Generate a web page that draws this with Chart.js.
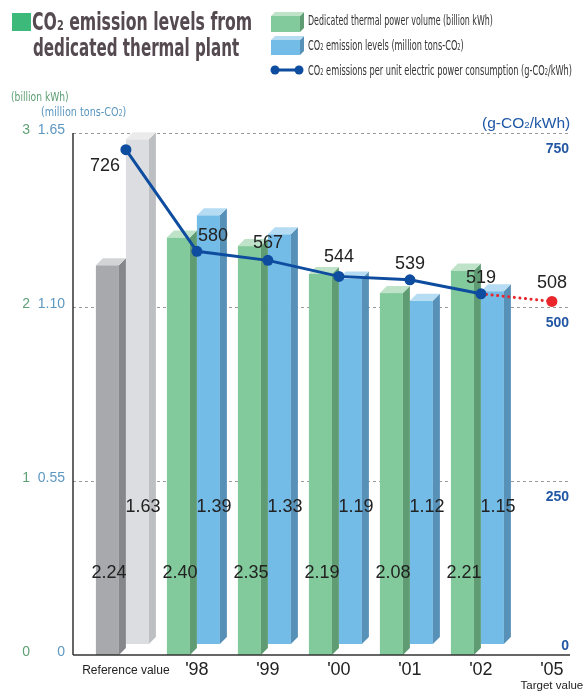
<!DOCTYPE html>
<html>
<head>
<meta charset="utf-8">
<script src="https://cdn.jsdelivr.net/npm/chart.js@4.4.1/dist/chart.umd.min.js"></script>
<style>
  body { margin: 0; background: #fff; }
  #wrap { position: relative; width: 585px; height: 692px; overflow: hidden; font-family: "Liberation Sans", Arial, sans-serif; }
  #wrap canvas { position: absolute; left: 0; top: 0; }
  .t { position: absolute; white-space: nowrap; transform-origin: 0 50%; }
  .nar { font-family: "Liberation Sans Narrow", "Arial Narrow", "DejaVu Sans Condensed", sans-serif; }
  .s { font-size: 62%; }
  #mark { position: absolute; left: 12px; top: 13px; width: 19px; height: 18px; background: #3dba79; }
  .title { font-weight: bold; font-size: 24px; line-height: 26px; color: #544a50; }
  .leg { font-size: 13.5px; line-height: 16px; color: #333; }
  .unit { font-size: 13px; line-height: 16px; }
</style>
</head>
<body>
<div id="wrap">
  <canvas id="chart" width="600" height="692"></canvas>
  <div id="mark"></div>
  <div class="t title nar" style="left:32px;top:9px" data-w="220">CO<span class="s">2</span> emission levels from</div>
  <div class="t title nar" style="left:33px;top:35px" data-w="206">dedicated thermal plant</div>
  <div class="t leg nar" style="left:308px;top:12px" data-w="185">Dedicated thermal power volume (billion kWh)</div>
  <div class="t leg nar" style="left:308px;top:37px" data-w="156">CO<span class="s">2</span> emission levels (million tons-CO<span class="s">2</span>)</div>
  <div class="t leg nar" style="left:308px;top:62px" data-w="264">CO<span class="s">2</span> emissions per unit electric power consumption (g-CO<span class="s">2</span>/kWh)</div>
  <div class="t unit nar" style="left:11px;top:89px;color:#5c9e72" data-w="58">(billion kWh)</div>
  <div class="t unit nar" style="left:41px;top:104px;color:#5a96c0" data-w="85">(million tons-CO<span class="s">2</span>)</div>
  <div class="t" style="left:482px;top:114px;font-size:15px;line-height:18px;color:#1f58a6" data-w="88">(g-CO<span class="s">2</span>/kWh)</div>
</div>
<script>
  // ----- data -----
  const categories = ["Reference value", "'98", "'99", "'00", "'01", "'02", "'05"];
  const powerVolume = [2.24, 2.40, 2.35, 2.19, 2.08, 2.21, null];     // billion kWh
  const co2Levels = [1.63, 1.39, 1.33, 1.19, 1.12, 1.15, null];       // million tons-CO2
  const unitEmissions = [726, 580, 567, 544, 539, 519, 508];          // g-CO2/kWh
  const powerTicks = [0, 1, 2, 3];
  const co2Ticks = [0, 0.55, 1.10, 1.65];
  const unitTicks = [0, 250, 500, 750];
  const powerTickLabels = ["0", "1", "2", "3"];
  const co2TickLabels = ["0", "0.55", "1.10", "1.65"];
  const unitTickLabels = ["0", "250", "500", "750"];

  // ----- styles -----
  const navy = "#0d4c9e";
  const red = "#e8262b";
  const greenFace = ["#82ca9b", "#5f9b73", "#bfe3c9"];
  const blueFace = ["#74bce8", "#5891b7", "#b6dcf4"];
  const darkGrayFace = ["#a8a9ad", "#86878b", "#d3d4d6"];
  const lightGrayFace = ["#dcdde0", "#bebfc3", "#ebebec"];
  const depth = 7;
  const targetIndex = unitEmissions.length - 1;
  const labelNudge = [[-21, 16], [16, -15], [0, -17], [0, -19], [0, -16], [0, -16], [0, -18]];
  const numFont = '18px "Liberation Sans", Arial, sans-serif';

  function box3d(ctx, left, top, bottom, front, d, faces) {
    const right = left + front;
    ctx.fillStyle = faces[0];
    ctx.fillRect(left, top, front, bottom - top);
    ctx.fillStyle = faces[1];
    ctx.beginPath();
    ctx.moveTo(right, top); ctx.lineTo(right + d, top - d);
    ctx.lineTo(right + d, bottom - d); ctx.lineTo(right, bottom);
    ctx.closePath(); ctx.fill();
    ctx.fillStyle = faces[2];
    ctx.beginPath();
    ctx.moveTo(left, top); ctx.lineTo(left + d, top - d);
    ctx.lineTo(right + d, top - d); ctx.lineTo(right, top);
    ctx.closePath(); ctx.fill();
  }

  const decor = {
    id: "decor",
    beforeDatasetsDraw(chart) {
      const ctx = chart.ctx;
      const { y, y2, y3 } = chart.scales;
      const axisX = 73, endX = 570;
      ctx.save();
      // dashed grid lines
      ctx.strokeStyle = "#9a9a9a";
      ctx.lineWidth = 1;
      ctx.setLineDash([3, 3]);
      powerTicks.slice(1).forEach(v => {
        const py = Math.round(y.getPixelForValue(v)) + 0.5;
        ctx.beginPath(); ctx.moveTo(axisX, py); ctx.lineTo(endX, py); ctx.stroke();
      });
      ctx.setLineDash([]);
      // left axis
      ctx.strokeStyle = "#333";
      ctx.lineWidth = 1.5;
      ctx.beginPath(); ctx.moveTo(axisX, y.getPixelForValue(3)); ctx.lineTo(axisX, y.getPixelForValue(0)); ctx.stroke();

      // tick labels
      ctx.font = '14px "Liberation Sans", Arial, sans-serif';
      ctx.textBaseline = "middle";
      ctx.textAlign = "right";
      powerTicks.forEach((v, i) => {
        ctx.fillStyle = "#5f9f74";
        ctx.fillText(powerTickLabels[i], 30, y.getPixelForValue(v) - 3);
      });
      co2Ticks.forEach((v, i) => {
        ctx.fillStyle = "#5d98c2";
        ctx.fillText(co2TickLabels[i], 65, y2.getPixelForValue(v) - 3);
      });
      ctx.font = 'bold 14px "Liberation Sans", Arial, sans-serif';
      ctx.fillStyle = "#2357a4";
      unitTicks.forEach((v, i) => {
        const py = v === 0 ? y3.getPixelForValue(v) - 9 : y3.getPixelForValue(v) + 16;
        ctx.fillText(unitTickLabels[i], 569, py);
      });

      // category labels
      const x = chart.scales.x;
      ctx.textAlign = "center";
      ctx.fillStyle = "#222";
      categories.forEach((c, i) => {
        const px = x.getPixelForValue(i);
        if (i === 0) {
          ctx.font = '12px "Liberation Sans Narrow", "Arial Narrow", sans-serif';
          ctx.fillText(c, px, 671);
        } else {
          ctx.font = numFont;
          ctx.fillText(c, px, 670);
        }
      });
      ctx.font = '11.5px "Liberation Sans Narrow", "Arial Narrow", sans-serif';
      ctx.fillText("Target value", x.getPixelForValue(targetIndex), 686);

      // legend swatches
      box3d(ctx, 271, 16, 32, 29, 4, greenFace);
      box3d(ctx, 271, 40, 55, 29, 4, blueFace);
      ctx.strokeStyle = navy; ctx.lineWidth = 3;
      ctx.beginPath(); ctx.moveTo(275, 70); ctx.lineTo(299, 70); ctx.stroke();
      ctx.fillStyle = navy;
      [275, 299].forEach(cx => { ctx.beginPath(); ctx.arc(cx, 70, 4.5, 0, Math.PI * 2); ctx.fill(); });
      ctx.restore();
    },
    afterDatasetDraw(chart, args) {
      if (args.meta.type !== "bar") return;
      const ctx = chart.ctx;
      const rear = args.index === 1;
      const data = chart.data.datasets[args.index].data;
      ctx.save();
      args.meta.data.forEach((bar, i) => {
        if (data[i] == null) return;
        const p = bar.getProps(["x", "y", "base", "width"], true);
        const left = p.x - p.width / 2;
        const faces = i === 0 ? (rear ? lightGrayFace : darkGrayFace) : (rear ? blueFace : greenFace);
        box3d(ctx, left, p.y, p.base - (rear ? 11 : 0), p.width - depth, depth, faces);
      });
      ctx.restore();
    },
    afterDatasetsDraw(chart) {
      const ctx = chart.ctx;
      const { y } = chart.scales;
      ctx.save();
      // base line
      ctx.strokeStyle = "#333";
      ctx.lineWidth = 1.5;
      ctx.beginPath(); ctx.moveTo(73, y.getPixelForValue(0)); ctx.lineTo(570, y.getPixelForValue(0)); ctx.stroke();

      ctx.font = numFont;
      ctx.fillStyle = "#222";
      ctx.textAlign = "center";
      ctx.textBaseline = "middle";
      // values written inside the bars
      [0, 1].forEach(di => {
        const meta = chart.getDatasetMeta(di);
        const data = chart.data.datasets[di].data;
        meta.data.forEach((bar, i) => {
          if (data[i] == null) return;
          const p = bar.getProps(["x", "base"], true);
          ctx.fillText(data[i].toFixed(2), p.x + (di ? 2 : -2), p.base - (di ? 148 : 82));
        });
      });
      // values of the line
      chart.getDatasetMeta(2).data.forEach((pt, i) => {
        const p = pt.getProps(["x", "y"], true);
        ctx.fillText(String(unitEmissions[i]), p.x + labelNudge[i][0], p.y + labelNudge[i][1]);
      });
      ctx.restore();
    }
  };

  new Chart(document.getElementById("chart"), {
    type: "bar",
    data: {
      labels: categories,
      datasets: [
        {
          type: "bar",
          label: "Dedicated thermal power volume (billion kWh)",
          data: powerVolume,
          yAxisID: "y",
          backgroundColor: "rgba(0,0,0,0)",
          barThickness: 30,
          order: 1
        },
        {
          type: "bar",
          label: "CO2 emission levels (million tons-CO2)",
          data: co2Levels,
          yAxisID: "y2",
          backgroundColor: "rgba(0,0,0,0)",
          barThickness: 30,
          order: 1
        },
        {
          type: "line",
          label: "CO2 emissions per unit electric power consumption (g-CO2/kWh)",
          data: unitEmissions,
          yAxisID: "y3",
          borderColor: navy,
          borderWidth: 3,
          borderCapStyle: "round",
          pointRadius: 5.5,
          pointBackgroundColor: unitEmissions.map((v, i) => i === targetIndex ? red : navy),
          pointBorderColor: unitEmissions.map((v, i) => i === targetIndex ? red : navy),
          pointBorderWidth: 0,
          tension: 0,
          clip: false,
          order: 0,
          segment: {
            borderColor: c => c.p1DataIndex === targetIndex ? red : navy,
            borderDash: c => c.p1DataIndex === targetIndex ? [0.1, 5.5] : []
          }
        }
      ]
    },
    options: {
      responsive: false,
      animation: false,
      devicePixelRatio: 1,
      // canvas is 600 wide and clipped at 585, so the plot may run to x=587
      layout: { padding: { left: 90.4, right: 12.6, top: 133, bottom: 37 } },
      plugins: { legend: { display: false }, tooltip: { enabled: false } },
      scales: {
        x: { display: false },
        y: { display: false, min: 0, max: 3 },
        y2: { display: false, min: 0, max: 1.65 },
        y3: { display: false, min: 0, max: 750 }
      }
    },
    plugins: [decor]
  });

  // squeeze the condensed texts to the widths they have in the picture
  document.querySelectorAll("[data-w]").forEach(el => {
    el.style.transform = "scaleX(" + (el.dataset.w / el.offsetWidth) + ")";
  });
</script>
</body>
</html>
